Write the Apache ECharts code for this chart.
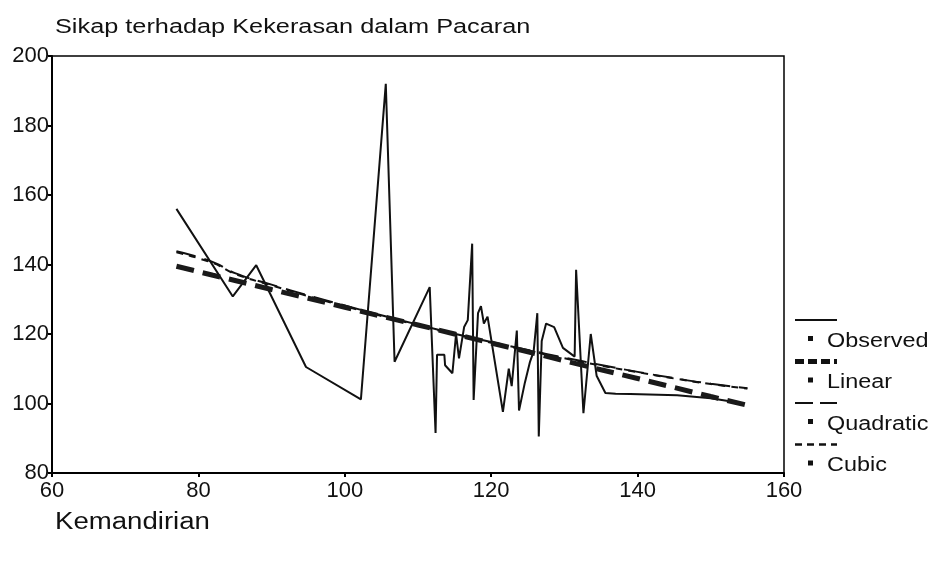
<!DOCTYPE html>
<html>
<head>
<meta charset="utf-8">
<script src="https://cdn.jsdelivr.net/npm/echarts@6/dist/echarts.min.js"></script>
<style>html,body{margin:0;padding:0;background:#fff}#c{width:935px;height:561px}</style>
</head>
<body>
<div id="c"></div>
<script>
// Observed: Kemandirian (x) vs Sikap (y)
const observedX = [77, 84.7, 87.9, 94.7, 102.2, 105.6, 106.8, 111.6, 112.4, 112.6, 113.6, 113.7, 114.7, 115.2, 115.6, 116.3, 116.8, 117.4, 117.6, 118.2, 118.6, 119.0, 119.5, 121.6, 122.4, 122.8, 123.5, 123.8, 124.6, 125.3, 125.8, 126.3, 126.5, 126.9, 127.5, 128.6, 129.8, 131.4, 131.6, 132.6, 133.6, 134.4, 135.6, 137, 139, 145.4, 150, 154.5];
const observedY = [156, 130.8, 139.8, 110.5, 101.2, 192, 112, 133.5, 91.5, 114, 114, 111, 108.7, 120, 113, 122, 124, 146, 101, 126, 128, 123, 125, 97.6, 110, 105, 121, 98, 106, 112, 115, 126, 90.5, 118, 123, 122, 116, 113.5, 138.5, 97.2, 120, 108, 103, 102.8, 102.7, 102.4, 101.5, 100];
// Fitted curves
const fitX = [77, 82, 85, 90, 95, 100, 105, 110, 115, 120, 125, 130, 135, 140, 145, 150, 155];
const linearY = [139.5, 136.9, 135.4, 132.8, 130.3, 127.7, 125.1, 122.6, 120.0, 117.4, 114.9, 112.3, 109.7, 107.2, 104.6, 102.0, 99.5];
const quadraticY = [143.8, 140.7, 137.5, 134.2, 131.1, 128.2, 125.4, 122.7, 120.1, 117.7, 115.4, 113.2, 111.1, 109.1, 107.3, 105.7, 104.4];
const cubicY = [143.5, 140.4, 137.3, 134.0, 130.9, 128.0, 125.2, 122.5, 119.9, 117.5, 115.2, 113.0, 110.9, 109.0, 107.2, 105.6, 104.3];
const xTicks = [60, 80, 100, 120, 140, 160];
const yTicks = [80, 100, 120, 140, 160, 180, 200];
const legendNames = ['Observed', 'Linear', 'Quadratic', 'Cubic'];

const pair = (xs, ys) => xs.map((x, i) => [x, ys[i]]);
const FONT = "'Liberation Sans', Arial, sans-serif";

const chart = echarts.init(document.getElementById('c'), null, {renderer: 'canvas'});

const legendTop = 320, legendStep = 41.5;
const graphics = [
  {type: 'text', x: 55, y: 17, scaleX: 1.265, style: {text: 'Sikap terhadap Kekerasan dalam Pacaran', font: '20px ' + FONT, fill: '#111', textVerticalAlign: 'top'}},
  {type: 'text', x: 55, y: 511, scaleX: 1.2, style: {text: 'Kemandirian', font: '23px ' + FONT, fill: '#111', textVerticalAlign: 'top'}}
];
const sampleStyles = [
  {lineWidth: 2, lineDash: null},
  {lineWidth: 5, lineDash: [9, 4]},
  {lineWidth: 2, lineDash: [18, 7]},
  {lineWidth: 2.5, lineDash: [7, 5]}
];
legendNames.forEach((name, i) => {
  const y = legendTop + i * legendStep;
  graphics.push({type: 'line', shape: {x1: 795, y1: y, x2: 837, y2: y}, style: Object.assign({stroke: '#111'}, sampleStyles[i])});
  graphics.push({type: 'rect', shape: {x: 808, y: y + 16, width: 5, height: 5}, style: {fill: '#111'}});
  graphics.push({type: 'text', x: 827, y: y + 11, scaleX: 1.17, style: {text: name, font: '20px ' + FONT, fill: '#111', textVerticalAlign: 'top'}});
});

chart.setOption({
  animation: false,
  backgroundColor: '#fff',
  grid: {left: 52, right: 151, top: 56, bottom: 88, show: true, borderColor: '#000', borderWidth: 1.5, backgroundColor: 'transparent'},
  xAxis: {
    type: 'value', min: 60, max: 160, interval: 20,
    axisLine: {lineStyle: {color: '#000', width: 2}},
    axisTick: {show: true, length: 4, lineStyle: {color: '#000', width: 2}},
    splitLine: {show: false},
    axisLabel: {color: '#111', fontSize: 22, fontFamily: FONT, margin: 7, formatter: v => xTicks.includes(v) ? String(v) : ''}
  },
  yAxis: {
    type: 'value', min: 80, max: 200, interval: 20,
    axisLine: {show: true, lineStyle: {color: '#000', width: 2}},
    axisTick: {show: true, length: 4, lineStyle: {color: '#000', width: 2}},
    splitLine: {show: false},
    axisLabel: {color: '#111', fontSize: 22, fontFamily: FONT, margin: 3, formatter: v => yTicks.includes(v) ? String(v) : ''}
  },
  series: [
    {name: 'Observed', type: 'line', data: pair(observedX, observedY), symbol: 'none', lineStyle: {color: '#111', width: 2}, z: 3},
    {name: 'Linear', type: 'line', data: pair(fitX, linearY), symbol: 'none', lineStyle: {color: '#1a1a1a', width: 5, type: [18, 9]}, z: 4},
    {name: 'Quadratic', type: 'line', data: pair(fitX, quadraticY), symbol: 'none', smooth: true, lineStyle: {color: '#111', width: 2, type: [20, 9]}, z: 2},
    {name: 'Cubic', type: 'line', data: pair(fitX, cubicY), symbol: 'none', smooth: true, lineStyle: {color: '#111', width: 2, type: [7, 6]}, z: 2}
  ],
  graphic: graphics
});
</script>
</body>
</html>
